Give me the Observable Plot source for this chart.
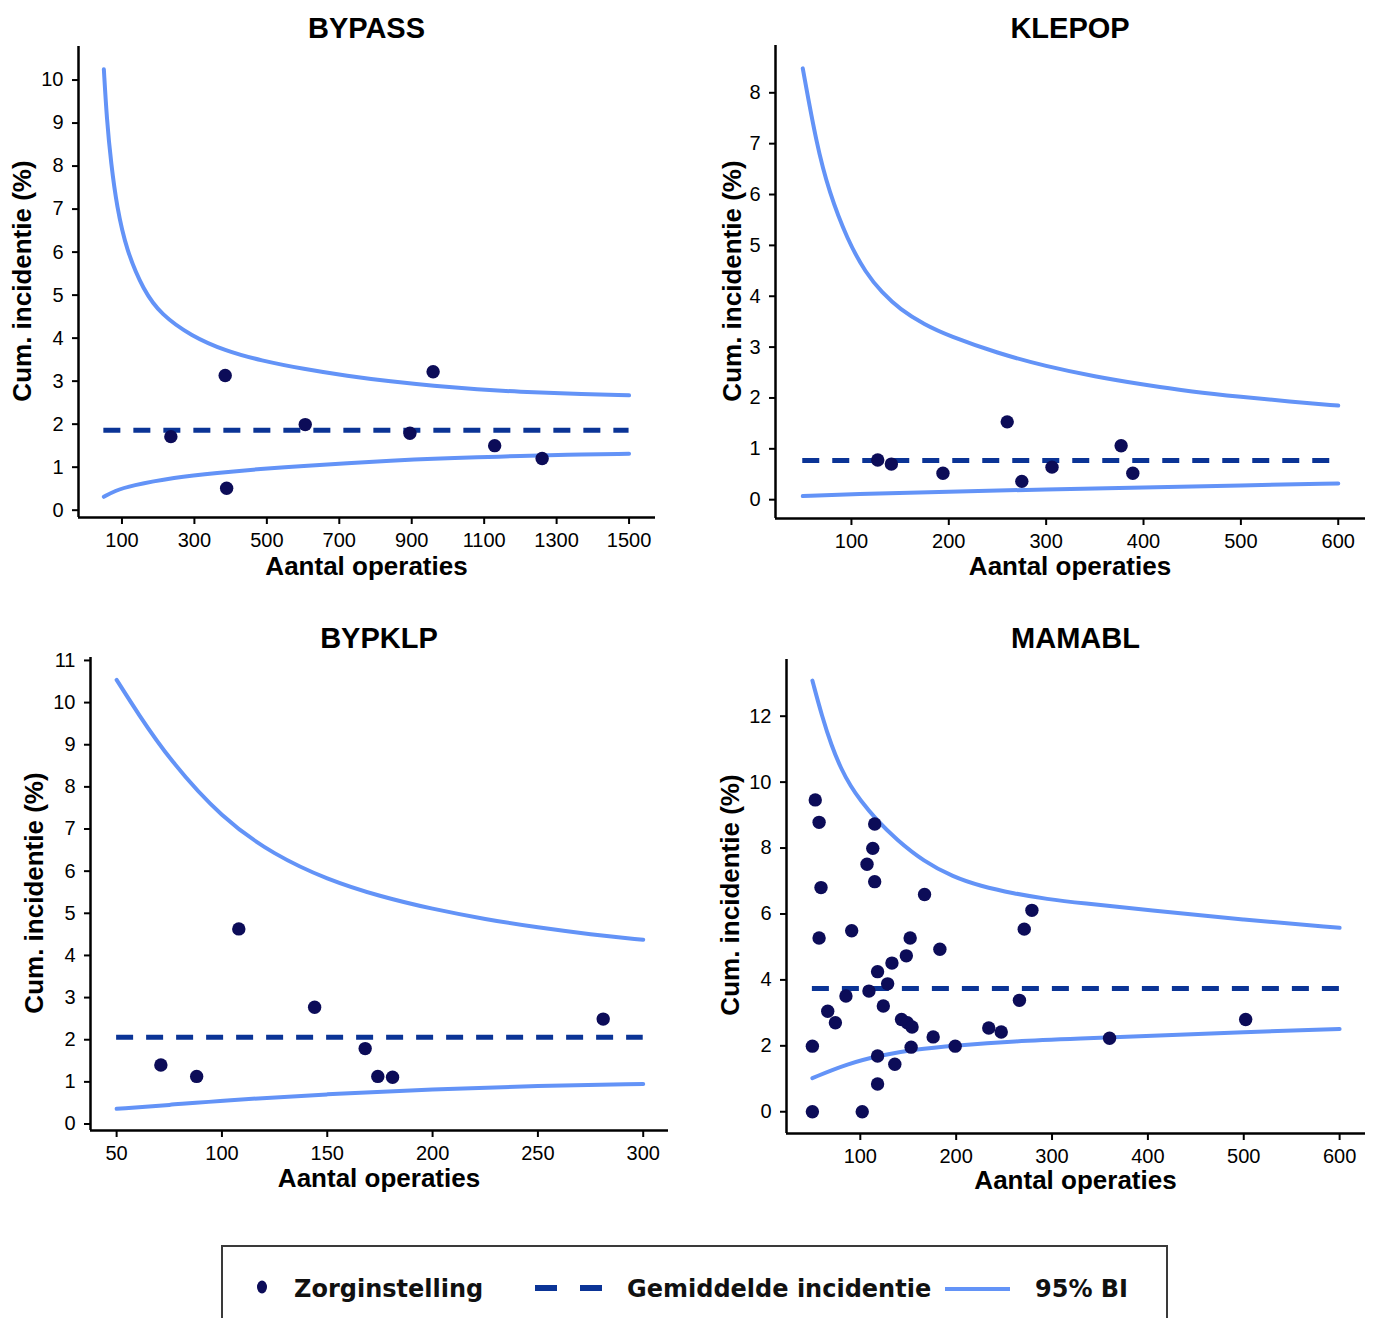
<!DOCTYPE html>
<html>
<head>
<meta charset="utf-8">
<script src="https://cdn.jsdelivr.net/npm/d3@7"></script>
<script src="https://cdn.jsdelivr.net/npm/@observablehq/plot@0.6"></script>
<style>
  body { margin: 0; background: #fff; }
  #wrap { position: relative; width: 1373px; height: 1318px; overflow: hidden; background: #fff;
          font-family: "Liberation Sans", Arial, sans-serif; color: #000; }
  .panel { position: absolute; }
  .title { position: absolute; transform: translate(-50%, -50%); font-weight: bold; font-size: 29px; white-space: nowrap; }
  .xlab { position: absolute; transform: translate(-50%, -50%); font-weight: bold; font-size: 26px; white-space: nowrap; }
  .ylab { position: absolute; transform: translate(-50%, -50%) rotate(-90deg); font-weight: bold; font-size: 26px; white-space: nowrap; }
  #legendBox { position: absolute; left: 221px; top: 1245px; width: 943px; height: 120px; border: 2px solid #3a3a3a; }
  .ltext { position: absolute; transform: translateY(-50%); font-family: "DejaVu Sans", Verdana, sans-serif; font-weight: bold; font-size: 24px; color: #111; white-space: nowrap; }
</style>
</head>
<body>
<div id="wrap"></div>
<script>
// ---------------- DATA ----------------
const titles = ["BYPASS", "KLEPOP", "BYPKLP", "MAMABL"];
const xLabel = "Aantal operaties";
const yLabel = "Cum. incidentie (%)";
const legendLabels = ["Zorginstelling", "Gemiddelde incidentie", "95% BI"];

// BYPASS
const bypassN   = [235, 385, 389, 606, 895, 959, 1129, 1260];
const bypassPct = [1.71, 3.13, 0.51, 1.99, 1.79, 3.22, 1.50, 1.20];
const bypassMean = 1.86;
const bypassUpperN   = [50, 58, 70, 86, 112, 160, 208, 291, 387, 483, 602, 722, 842, 961, 1081, 1200, 1320, 1500];
const bypassUpperPct = [10.25, 9.1, 8.05, 7.05, 6.05, 5.1, 4.55, 4.05, 3.7, 3.48, 3.28, 3.12, 2.99, 2.89, 2.81, 2.75, 2.71, 2.67];
const bypassLowerN   = [50, 80, 124, 244, 363, 483, 602, 722, 842, 961, 1081, 1200, 1320, 1500];
const bypassLowerPct = [0.31, 0.45, 0.57, 0.76, 0.87, 0.96, 1.03, 1.09, 1.15, 1.20, 1.23, 1.26, 1.29, 1.31];
const bypassTicksX = [100, 300, 500, 700, 900, 1100, 1300, 1500];
const bypassTicksY = [0, 1, 2, 3, 4, 5, 6, 7, 8, 9, 10];

// KLEPOP
const klepopN   = [127, 141, 194, 260, 275, 306, 377, 389];
const klepopPct = [0.78, 0.70, 0.52, 1.53, 0.36, 0.64, 1.06, 0.52];
const klepopMean = 0.77;
const klepopUpperN   = [50, 64, 77, 96, 115, 131, 150, 175, 200, 250, 300, 350, 400, 450, 500, 550, 600];
const klepopUpperPct = [8.48, 7.0, 6.05, 5.1, 4.45, 4.08, 3.74, 3.44, 3.22, 2.88, 2.62, 2.42, 2.26, 2.12, 2.02, 1.93, 1.85];
const klepopLowerN   = [50, 100, 200, 300, 400, 500, 600];
const klepopLowerPct = [0.07, 0.11, 0.16, 0.20, 0.24, 0.28, 0.32];
const klepopTicksX = [100, 200, 300, 400, 500, 600];
const klepopTicksY = [0, 1, 2, 3, 4, 5, 6, 7, 8];

// BYPKLP
const bypklpN   = [71, 88, 108, 144, 168, 174, 181, 281];
const bypklpPct = [1.40, 1.13, 4.63, 2.77, 1.79, 1.13, 1.11, 2.49];
const bypklpMean = 2.06;
const bypklpUpperN   = [50, 60, 75, 100, 125, 150, 175, 200, 225, 250, 275, 300];
const bypklpUpperPct = [10.54, 9.75, 8.65, 7.25, 6.38, 5.80, 5.40, 5.10, 4.86, 4.66, 4.50, 4.37];
const bypklpLowerN   = [50, 75, 100, 150, 200, 250, 300];
const bypklpLowerPct = [0.36, 0.45, 0.56, 0.71, 0.82, 0.91, 0.95];
const bypklpTicksX = [50, 100, 150, 200, 250, 300];
const bypklpTicksY = [0, 1, 2, 3, 4, 5, 6, 7, 8, 9, 10, 11];

// MAMABL
const mamablN   = [53, 57, 115, 113, 107, 115, 59, 167, 57, 91, 152, 183, 148, 133, 118, 128.5, 109, 85, 124, 66,
                   74, 143, 149, 154, 176, 153, 199, 50, 118, 136, 118, 50, 102, 234, 247, 266, 271, 279, 360, 502];
const mamablPct = [9.46, 8.78, 8.73, 7.99, 7.51, 6.98, 6.80, 6.59, 5.27, 5.49, 5.27, 4.93, 4.73, 4.51, 4.25, 3.88, 3.66, 3.51, 3.21, 3.05,
                   2.70, 2.80, 2.70, 2.57, 2.27, 1.96, 1.99, 1.99, 1.69, 1.44, 0.84, 0, 0, 2.54, 2.42, 3.38, 5.54, 6.11, 2.23, 2.80];
const mamablMean = 3.74;
const mamablUpperN   = [50, 60, 70, 80, 90, 100, 116, 138, 166, 197, 225, 260, 295, 330, 400, 500, 600];
const mamablUpperPct = [13.08, 12.0, 11.1, 10.4, 9.87, 9.45, 8.88, 8.25, 7.6, 7.12, 6.85, 6.62, 6.45, 6.33, 6.12, 5.82, 5.58];
const mamablLowerN   = [50, 86, 121, 156, 199, 260, 330, 400, 500, 600];
const mamablLowerPct = [1.02, 1.45, 1.71, 1.89, 2.01, 2.14, 2.22, 2.30, 2.42, 2.51];
const mamablTicksX = [100, 200, 300, 400, 500, 600];
const mamablTicksY = [0, 2, 4, 6, 8, 10, 12];

// ---------------- STYLE ----------------
const dotColor = "#0c0c58";
const meanColor = "#0b3496";
const ciColor = "#6393f7";

const panels = [
  { title: titles[0], n: bypassN, pct: bypassPct, mean: bypassMean, meanTo: 1500,
    upN: bypassUpperN, upPct: bypassUpperPct, loN: bypassLowerN, loPct: bypassLowerPct,
    tx: bypassTicksX, ty: bypassTicksY, xd: [-20, 1573], yd: [-0.17, 10.78],
    left: 0, top: 0, w: 686, h: 600, ml: 78, mr: 31, mt: 46, mb: 83,
    titlePos: [366.5, 28], xlabPos: [366.5, 566], ylabPos: [22, 281] },
  { title: titles[1], n: klepopN, pct: klepopPct, mean: klepopMean, meanTo: 600,
    upN: klepopUpperN, upPct: klepopUpperPct, loN: klepopLowerN, loPct: klepopLowerPct,
    tx: klepopTicksX, ty: klepopTicksY, xd: [22, 628], yd: [-0.37, 8.93],
    left: 686, top: 0, w: 687, h: 600, ml: 89, mr: 8, mt: 45, mb: 82,
    titlePos: [1070, 28], xlabPos: [1070, 566], ylabPos: [732, 281] },
  { title: titles[2], n: bypklpN, pct: bypklpPct, mean: bypklpMean, meanTo: 300,
    upN: bypklpUpperN, upPct: bypklpUpperPct, loN: bypklpLowerN, loPct: bypklpLowerPct,
    tx: bypklpTicksX, ty: bypklpTicksY, xd: [37.6, 312], yd: [-0.154, 11.07],
    left: 0, top: 600, w: 686, h: 620, ml: 90, mr: 18, mt: 57, mb: 90,
    titlePos: [379, 638], xlabPos: [379, 1178], ylabPos: [34, 893] },
  { title: titles[3], n: mamablN, pct: mamablPct, mean: mamablMean, meanTo: 600,
    upN: mamablUpperN, upPct: mamablUpperPct, loN: mamablLowerN, loPct: mamablLowerPct,
    tx: mamablTicksX, ty: mamablTicksY, xd: [23, 627], yd: [-0.66, 13.72],
    left: 686, top: 600, w: 687, h: 620, ml: 100, mr: 8, mt: 59, mb: 87,
    titlePos: [1075.5, 638], xlabPos: [1075.5, 1180], ylabPos: [730, 895] }
];

const wrap = document.getElementById("wrap");

function addText(cls, txt, pos) {
  const d = document.createElement("div");
  d.className = cls;
  d.textContent = txt;
  d.style.left = pos[0] + "px";
  d.style.top = pos[1] + "px";
  wrap.appendChild(d);
}

for (const p of panels) {
  const pts = p.n.map((n, i) => ({n, pct: p.pct[i]}));
  const up = p.upN.map((n, i) => ({n, pct: p.upPct[i]}));
  const lo = p.loN.map((n, i) => ({n, pct: p.loPct[i]}));
  const svg = Plot.plot({
    width: p.w, height: p.h,
    marginLeft: p.ml, marginRight: p.mr, marginTop: p.mt, marginBottom: p.mb,
    x: {domain: p.xd, label: null},
    y: {domain: p.yd, label: null},
    style: {background: "transparent", fontFamily: "'Liberation Sans', Arial, sans-serif", color: "#000", overflow: "visible"},
    marks: [
      Plot.ruleY([p.mean], {x1: 50, x2: p.meanTo, stroke: meanColor, strokeWidth: 5, strokeDasharray: "17,13"}),
      Plot.line(up, {x: "n", y: "pct", stroke: ciColor, strokeWidth: 4, curve: "basis"}),
      Plot.line(lo, {x: "n", y: "pct", stroke: ciColor, strokeWidth: 4, curve: "basis"}),
      Plot.dot(pts, {x: "n", y: "pct", r: 6.7, fill: dotColor, stroke: "none"}),
      Plot.axisX(p.tx, {tickSize: 7, tickPadding: 8, fontSize: 20, strokeWidth: 2, label: null, tickFormat: d => String(d)}),
      Plot.axisY(p.ty, {tickSize: 6, tickPadding: 9, fontSize: 20, strokeWidth: 2, label: null, tickFormat: d => String(d)}),
      Plot.ruleX([p.xd[0]], {stroke: "#000", strokeWidth: 2.5}),
      Plot.ruleY([p.yd[0]], {stroke: "#000", strokeWidth: 2.5})
    ]
  });
  svg.classList.add("panel");
  svg.style.left = p.left + "px";
  svg.style.top = p.top + "px";
  wrap.appendChild(svg);
  addText("title", p.title, p.titlePos);
  addText("xlab", xLabel, p.xlabPos);
  addText("ylab", yLabel, p.ylabPos);
}

// ---------------- LEGEND ----------------
const box = document.createElement("div");
box.id = "legendBox";
wrap.appendChild(box);

const ns = "http://www.w3.org/2000/svg";
const sym = document.createElementNS(ns, "svg");
sym.setAttribute("width", 1373);
sym.setAttribute("height", 1318);
sym.style.position = "absolute";
sym.style.left = "0px";
sym.style.top = "0px";
function el(name, attrs) {
  const e = document.createElementNS(ns, name);
  for (const k in attrs) e.setAttribute(k, attrs[k]);
  sym.appendChild(e);
}
el("ellipse", {cx: 262, cy: 1287, rx: 5, ry: 6.5, fill: dotColor});
el("line", {x1: 535, x2: 602, y1: 1288, y2: 1288, stroke: meanColor, "stroke-width": 6, "stroke-dasharray": "22,23"});
el("line", {x1: 945, x2: 1010, y1: 1289, y2: 1289, stroke: ciColor, "stroke-width": 4});
wrap.appendChild(sym);

function addLegendText(txt, x) {
  const d = document.createElement("div");
  d.className = "ltext";
  d.textContent = txt;
  d.style.left = x + "px";
  d.style.top = "1289px";
  wrap.appendChild(d);
}
addLegendText(legendLabels[0], 294);
addLegendText(legendLabels[1], 627);
addLegendText(legendLabels[2], 1035);
</script>
</body>
</html>
